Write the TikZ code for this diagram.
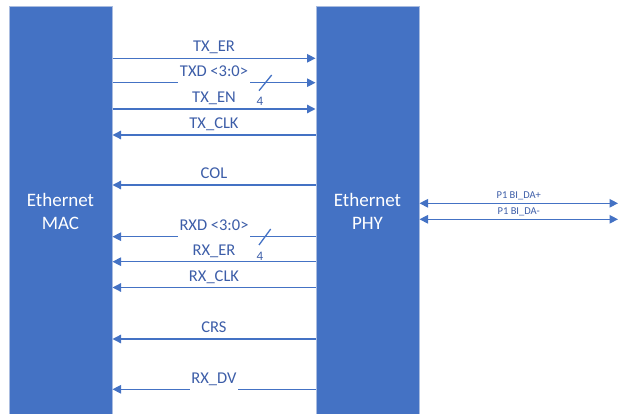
\documentclass[tikz,border=0pt]{standalone}
\usepackage{fontspec}
\setmainfont{Carlito}
\usetikzlibrary{arrows.meta}
\definecolor{boxblue}{HTML}{4472C4}
\definecolor{boxedge}{HTML}{A9BCE0}
\definecolor{linblue}{HTML}{4472C4}
\definecolor{txtblue}{HTML}{3C5DA8}
\tikzset{
  blockbox/.style={rectangle, fill=boxblue, draw=boxedge, line width=1pt, inner sep=0pt,
    minimum width=103pt, minimum height=409pt, text=white, align=center,
    font=\fontsize{19}{23}\selectfont},
  sig/.style={draw=linblue, line width=1.3pt, -{Triangle[length=8.5pt,width=8.5pt]}},
  dsig/.style={draw=linblue, line width=1.3pt, {Triangle[length=8.5pt,width=8.5pt]}-{Triangle[length=8.5pt,width=8.5pt]}},
  lab/.style={midway, anchor=base, yshift=6.3pt, inner sep=0pt, text=txtblue,
    font=\fontsize{16.5}{18}\selectfont},
  gaplab/.style={lab, fill=white, inner xsep=1.5pt, inner ysep=0pt, text depth=7pt},
  smalllab/.style={midway, anchor=base, yshift=4.5pt, inner sep=0.5pt, fill=white, text=txtblue,
    font=\fontsize{10.5}{12}\selectfont},
  buslab/.style={inner sep=0pt, text=txtblue, font=\fontsize{13}{14}\selectfont},
  busmark/.style={draw=linblue, line width=1.3pt}
}
\begin{document}
\begin{tikzpicture}[x=1pt,y=-1pt]
\useasboundingbox (0,0) rectangle (621,414);
\clip (0,0) rectangle (621,414);
\node[blockbox] (mac) at (60.5,211.5) {Ethernet\\MAC};
\node[blockbox] (phy) at (367.5,211.5) {Ethernet\\PHY};
\coordinate (l1) at (0,58.3);
\coordinate (l2) at (0,82.7);
\coordinate (l3) at (0,109);
\coordinate (l4) at (0,135);
\coordinate (l5) at (0,185);
\coordinate (l6) at (0,236.7);
\coordinate (l7) at (0,261.7);
\coordinate (l8) at (0,287.5);
\coordinate (l9) at (0,339);
\coordinate (l10) at (0,389.3);
\coordinate (d1) at (0,203.3);
\coordinate (d2) at (0,219.3);
\coordinate (rend) at (618,0);
% MAC -> PHY
\draw[sig] (mac.east |- l1) -- (phy.west |- l1) node[lab] (tler) {TX\_ER};
\draw[sig] (mac.east |- l2) -- (phy.west |- l2) node[gaplab] (tltxd) {TXD <3:0>};
\draw[sig] (mac.east |- l3) -- (phy.west |- l3) node[lab] (tlen) {TX\_EN};
% PHY -> MAC
\draw[sig] (phy.west |- l4) -- (mac.east |- l4) node[lab] (tlclk) {TX\_CLK};
\draw[sig] (phy.west |- l5) -- (mac.east |- l5) node[lab] (tlcol) {COL};
\draw[sig] (phy.west |- l6) -- (mac.east |- l6) node[gaplab] (tlrxd) {RXD <3:0>};
\draw[sig] (phy.west |- l7) -- (mac.east |- l7) node[lab] (tlrxer) {RX\_ER};
\draw[sig] (phy.west |- l8) -- (mac.east |- l8) node[lab] (tlrxclk) {RX\_CLK};
\draw[sig] (phy.west |- l9) -- (mac.east |- l9) node[lab] (tlcrs) {CRS};
\draw[sig] (phy.west |- l10) -- (mac.east |- l10) node[gaplab] (tlrxdv) {RX\_DV};
% PHY line side
\draw[dsig] (phy.east |- d1) -- (rend |- d1) node[smalllab] (tdap) {P1 BI\_DA+};
\draw[dsig] (phy.east |- d2) -- (rend |- d2) node[smalllab] (tdam) {P1 BI\_DA-};
% bus width marks
\draw[busmark] (259,90.7) -- (271.7,75);
\node[buslab] (w1) at (260,101.7) {4};
\draw[busmark] (259,245) -- (270.7,229);
\node[buslab] (w2) at (260,256) {4};
\end{tikzpicture}
\end{document}
